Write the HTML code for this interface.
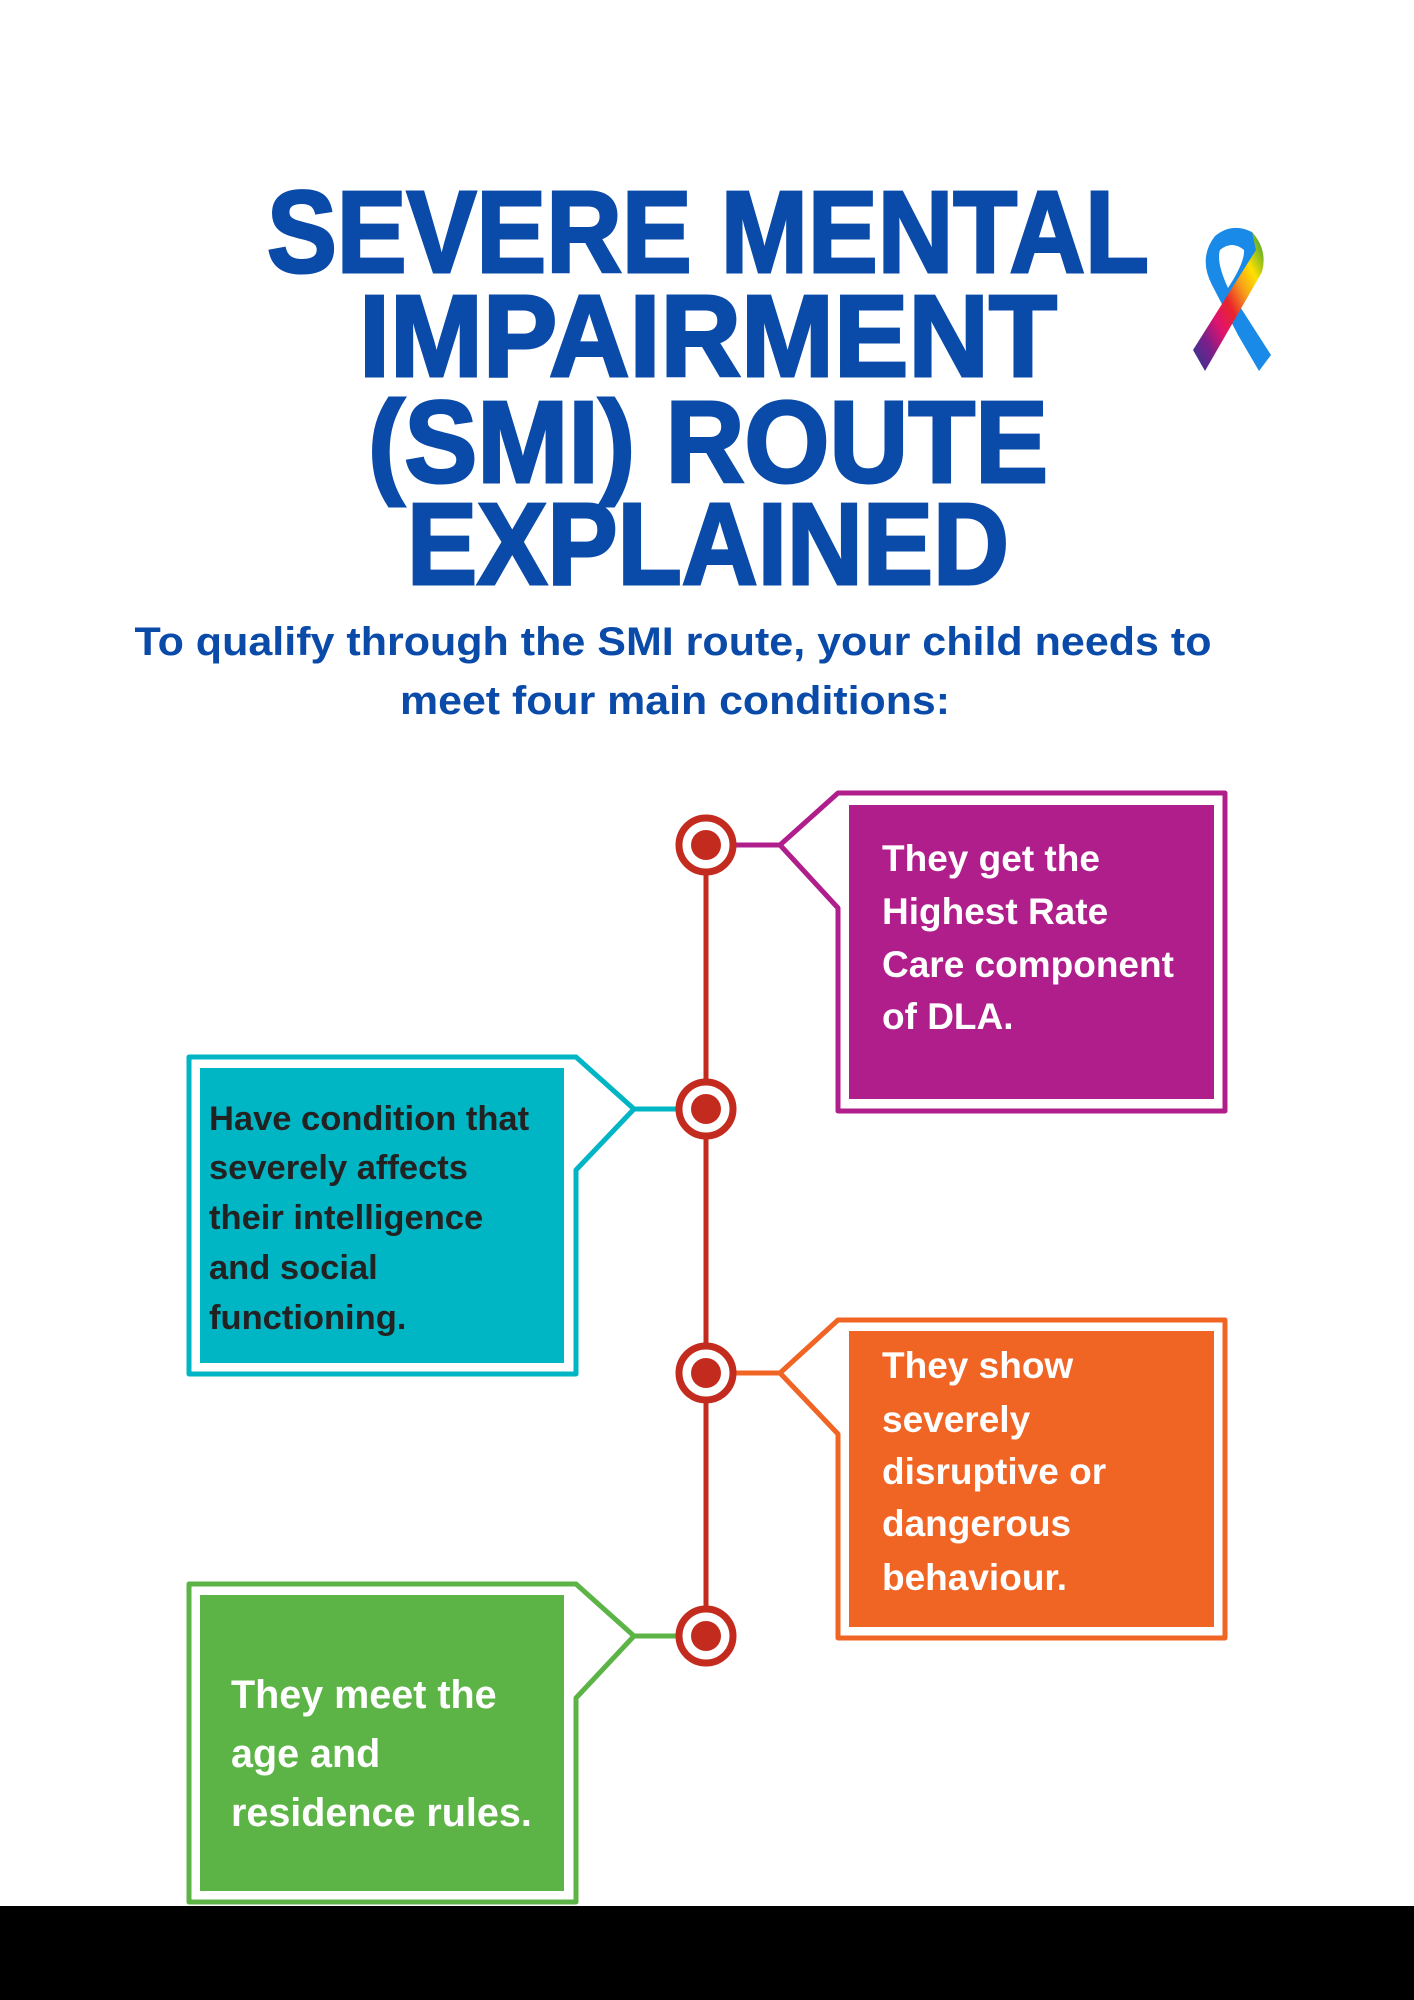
<!DOCTYPE html>
<html><head><meta charset="utf-8"><style>html,body{margin:0;padding:0;background:#fff}svg{display:block}</style></head>
<body>
<svg width="1414" height="2000" viewBox="0 0 1414 2000" xmlns="http://www.w3.org/2000/svg">
<defs>
<linearGradient id="rb" x1="0" y1="1" x2="1" y2="0">
<stop offset="0" stop-color="#2b3a8f"/><stop offset="0.2" stop-color="#7a1f8a"/><stop offset="0.35" stop-color="#e0136f"/><stop offset="0.5" stop-color="#e8262a"/><stop offset="0.65" stop-color="#f7a11a"/><stop offset="0.78" stop-color="#ffe000"/><stop offset="1" stop-color="#1e9b3a"/>
</linearGradient>
</defs>
<rect width="1414" height="2000" fill="#fff"/>
<g font-family="Liberation Sans, sans-serif" font-weight="bold" fill="#0a4aa8" stroke="#0a4aa8" stroke-width="3" text-anchor="middle">
<text x="708" y="272" font-size="116" textLength="882" lengthAdjust="spacingAndGlyphs">SEVERE MENTAL</text>
<text x="708" y="376" font-size="116" textLength="698" lengthAdjust="spacingAndGlyphs">IMPAIRMENT</text>
<text x="708" y="482" font-size="116" textLength="680" lengthAdjust="spacingAndGlyphs">(SMI) ROUTE</text>
<text x="708" y="584" font-size="116" textLength="602" lengthAdjust="spacingAndGlyphs">EXPLAINED</text>
</g>
<g font-family="Liberation Sans, sans-serif" font-weight="bold" fill="#0a4aa8" text-anchor="middle">
<text x="673" y="655" font-size="40" textLength="1077" lengthAdjust="spacingAndGlyphs">To qualify through the SMI route, your child needs to</text>
<text x="675" y="714" font-size="40" textLength="550" lengthAdjust="spacingAndGlyphs">meet four main conditions:</text>
</g>
<!-- ribbon -->
<g>
<path d="M1215,236 Q1232,222 1252,232 Q1262,245 1256,262 L1235,300 L1228,288 Q1245,262 1244,250 Q1232,240 1220,250 Q1216,262 1228,288 L1271,355 L1259,371 L1238,335 L1212,285 Q1198,258 1215,236 Z" fill="#1a8ae8"/>
<path d="M1252,232 Q1268,250 1262,272 L1205,371 L1193,350 L1256,250 Z" fill="url(#rb)"/>
</g>
<!-- timeline -->
<line x1="706" y1="845" x2="706" y2="1636" stroke="#c42b1f" stroke-width="5"/>
<line x1="706" y1="845" x2="780" y2="845" stroke="#b01e8c" stroke-width="5"/>
<line x1="634" y1="1109" x2="706" y2="1109" stroke="#00b5c4" stroke-width="5"/>
<line x1="706" y1="1373" x2="780" y2="1373" stroke="#f06424" stroke-width="5"/>
<line x1="634" y1="1636" x2="706" y2="1636" stroke="#5db446" stroke-width="5"/>
<path d="M838,793 L1225,793 L1225,1111 L838,1111 L838,908 L780,845 Z" fill="none" stroke="#b01e8c" stroke-width="5" stroke-linejoin="round"/>
<rect x="849" y="805" width="365" height="294" fill="#b01e8c"/>
<path d="M189,1057 L576,1057 L634,1109 L576,1170 L576,1374 L189,1374 Z" fill="none" stroke="#00b5c4" stroke-width="5" stroke-linejoin="round"/>
<rect x="200" y="1068" width="364" height="295" fill="#00b5c4"/>
<path d="M838,1320 L1225,1320 L1225,1638 L838,1638 L838,1434 L780,1373 Z" fill="none" stroke="#f06424" stroke-width="5" stroke-linejoin="round"/>
<rect x="849" y="1331" width="365" height="296" fill="#f06424"/>
<path d="M189,1584 L576,1584 L634,1636 L576,1698 L576,1902 L189,1902 Z" fill="none" stroke="#5db446" stroke-width="5" stroke-linejoin="round"/>
<rect x="200" y="1595" width="364" height="296" fill="#5db446"/>
<g fill="#fff" stroke="#c42b1f" stroke-width="7">
<circle cx="706" cy="845" r="27"/><circle cx="706" cy="1109" r="27"/><circle cx="706" cy="1373" r="27"/><circle cx="706" cy="1636" r="27"/>
</g>
<g fill="#c42b1f">
<circle cx="706" cy="845" r="15"/><circle cx="706" cy="1109" r="15"/><circle cx="706" cy="1373" r="15"/><circle cx="706" cy="1636" r="15"/>
</g>
<g font-family="Liberation Sans, sans-serif" font-weight="bold" font-size="37" fill="#fff">
<text x="882" y="871">They get the</text>
<text x="882" y="924">Highest Rate</text>
<text x="882" y="977">Care component</text>
<text x="882" y="1029">of DLA.</text>
<text x="882" y="1378">They show</text>
<text x="882" y="1432">severely</text>
<text x="882" y="1484">disruptive or</text>
<text x="882" y="1536">dangerous</text>
<text x="882" y="1590">behaviour.</text>
</g>
<g font-family="Liberation Sans, sans-serif" font-weight="bold" font-size="34.5" fill="#222">
<text x="209" y="1130">Have condition that</text>
<text x="209" y="1179">severely affects</text>
<text x="209" y="1229">their intelligence</text>
<text x="209" y="1279">and social</text>
<text x="209" y="1329">functioning.</text>
</g>
<g font-family="Liberation Sans, sans-serif" font-weight="bold" font-size="39.5" fill="#fff">
<text x="231" y="1708">They meet the</text>
<text x="231" y="1767">age and</text>
<text x="231" y="1826">residence rules.</text>
</g>
<rect x="0" y="1906" width="1414" height="94" fill="#000"/>
</svg>
</body></html>
